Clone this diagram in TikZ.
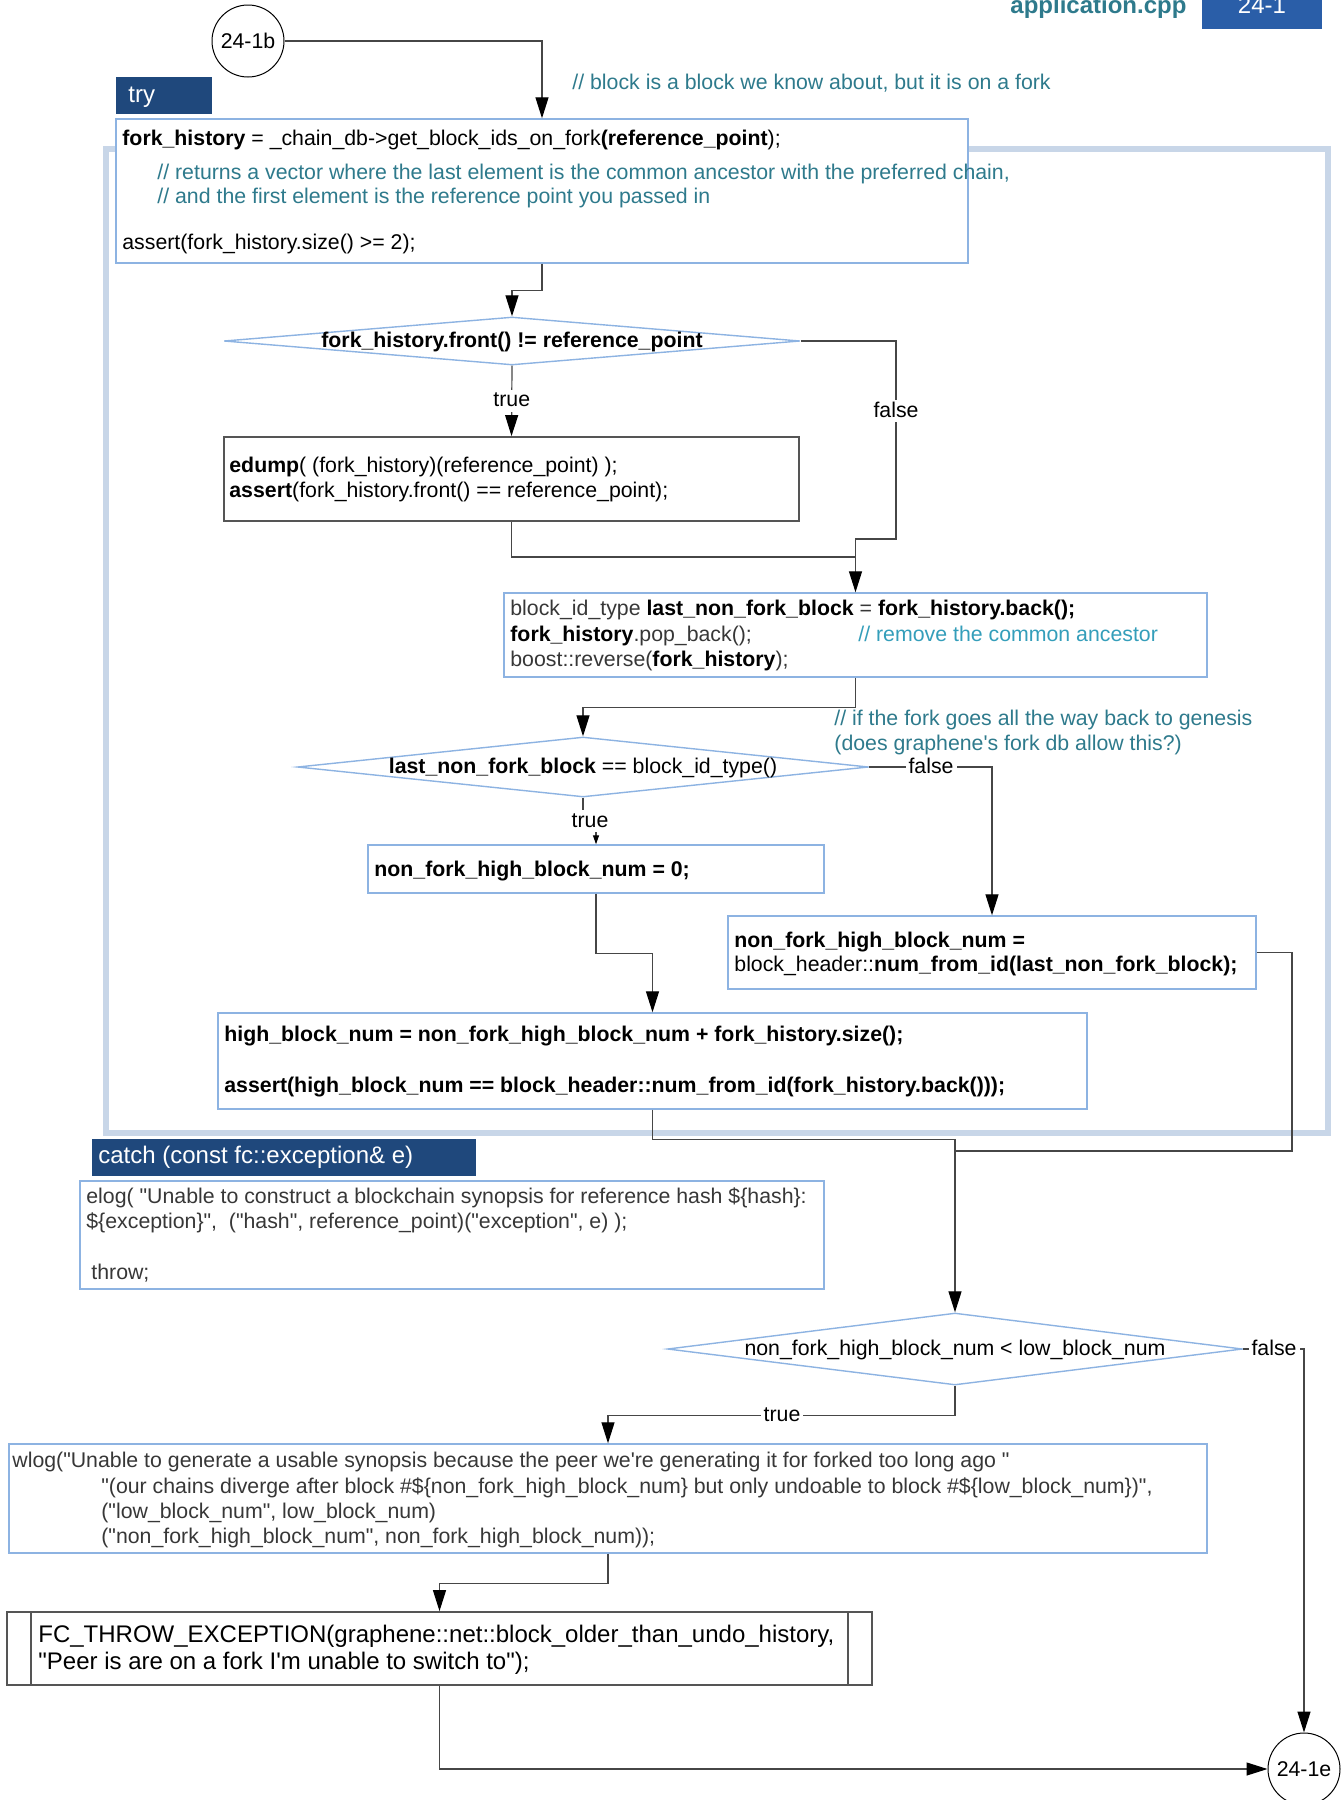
\documentclass[tikz,border=0pt]{standalone}
\usepackage{fontspec}
\newfontfamily\code{Liberation Sans}
\usetikzlibrary{arrows.meta,shapes.geometric,fit}

\definecolor{linkblue}{RGB}{141,179,226}
\definecolor{tryframe}{RGB}{200,214,232}
\definecolor{tagblue}{RGB}{31,72,124}
\definecolor{pageblue}{RGB}{42,94,168}
\definecolor{cmt}{RGB}{46,122,140}
\definecolor{cmtlight}{RGB}{52,158,186}
\definecolor{wire}{RGB}{70,70,70}
\definecolor{codegray}{RGB}{55,55,55}
\definecolor{darkframe}{RGB}{85,85,85}

\begin{document}
\begin{tikzpicture}[x=0.5pt,y=-0.5pt,
  font=\code\fontsize{10.65}{12.5}\selectfont,
  lbox/.style={rectangle, draw=linkblue, line width=0.7pt, fill=white, inner sep=0pt},
  dbox/.style={rectangle, draw=darkframe, line width=0.9pt, fill=white, inner sep=0pt},
  decision/.style={diamond, draw=linkblue, line width=0.7pt, fill=white, inner sep=0pt},
  tagbox/.style={rectangle, fill=tagblue, inner sep=0pt},
  codeline/.style={anchor=west, inner sep=0pt, text height=0.62em, text depth=0pt},
  mid/.style={inner sep=0pt, text height=0.62em, text depth=0pt},
  big/.style={font=\code\fontsize{12}{14}\selectfont},
  conn/.style={draw=wire, line width=0.6pt, -{Triangle[length=10.5pt,width=6.5pt,color=black]}},
  smallconn/.style={draw=wire, line width=0.6pt, -{Triangle[length=4.5pt,width=3pt,color=black]}},
  plain/.style={draw=wire, line width=0.6pt},
  branch/.style={fill=white, inner xsep=1.5pt, inner ysep=1pt, text height=0.75em, text depth=0.15em},
  offpage/.style={circle, draw=black, line width=0.5pt, fill=white, minimum size=36pt, inner sep=0pt},
]
\useasboundingbox (0,0) rectangle (1342,1800);

% page header
\node[rectangle, fill=pageblue, inner sep=0pt, fit={(1202,-10) (1322,29)}] (pg) {};
\node[anchor=base, inner sep=0pt, text=white, big] (pgt) at (1262,13) {24-1};
\node[anchor=base west, inner sep=0pt, text=cmt, font=\code\bfseries\fontsize{12}{14}\selectfont] (file) at (1010,13) {application.cpp};

% try region
\node[rectangle, draw=tryframe, line width=3pt, inner sep=0pt, fit={(106,149) (1328,1133)}] (tryarea) {};
\node[tagbox, fit={(116,77) (212,114)}] (trytag) {};
\node[codeline, text=white, big] (trytxt) at (128,96) {try};

% entry connector
\node[offpage] (c1) at (248,41) {24-1b};
\node[codeline, text=cmt] (cm1) at (572,83) {// block is a block we know about, but it is on a fork};

% fork history query
\node[lbox, fit={(116,119) (968,263)}] (b1) {};
\node[codeline] (b1a) at (122,139) {\textbf{fork\_history} = \_chain\_db->get\_block\_ids\_on\_fork\textbf{(reference\_point});};
\node[codeline, text=cmt] (b1b) at (157,173) {// returns a vector where the last element is the common ancestor with the preferred chain,};
\node[codeline, text=cmt] (b1c) at (157,197) {// and the first element is the reference point you passed in};
\node[codeline] (b1d) at (122,243) {assert(fork\_history.size() >= 2);};

% first decision
\node[decision, minimum width=288pt, minimum height=24pt] (d1) at (512,341) {};
\node[mid] (d1t) at (d1.center) {\textbf{fork\_history.front() != reference\_point}};

\node[dbox, fit={(224,437) (799,521)}] (e1) {};
\node[codeline] (e1a) at (229,466) {\textbf{edump}( (fork\_history)(reference\_point) );};
\node[codeline] (e1b) at (229,491) {\textbf{assert}(fork\_history.front() == reference\_point);};

% last common block
\node[lbox, fit={(504,593) (1207,677)}] (b2) {};
\node[codeline, text=codegray] (b2a) at (510,609) {block\_id\_type \textcolor{black}{\textbf{last\_non\_fork\_block}} = \textcolor{black}{\textbf{fork\_history.back();}}};
\node[codeline, text=codegray] (b2b) at (510,635) {\textcolor{black}{\textbf{fork\_history}}.pop\_back();};
\node[codeline, text=cmtlight] (b2c) at (858,635) {// remove the common ancestor};
\node[codeline, text=codegray] (b2d) at (510,660) {boost::reverse(\textcolor{black}{\textbf{fork\_history}});};

\node[codeline, text=cmt] (cm2) at (834,719) {// if the fork goes all the way back to genesis};
\node[codeline, text=cmt] (cm3) at (834,744) {(does graphene's fork db allow this?)};

% second decision
\node[decision, minimum width=285.5pt, minimum height=30pt] (d2) at (583,767) {};
\node[mid] (d2t) at (d2.center) {\textbf{last\_non\_fork\_block} == block\_id\_type()};

\node[lbox, fit={(368,845) (824,893)}] (b3) {};
\node[codeline] (b3a) at (374,870) {\textbf{non\_fork\_high\_block\_num = 0;}};

\node[lbox, fit={(728,916) (1256,989)}] (b4) {};
\node[codeline] (b4a) at (734,941) {\textbf{non\_fork\_high\_block\_num =}};
\node[codeline] (b4b) at (734,965) {block\_header::\textbf{num\_from\_id(last\_non\_fork\_block);}};

\node[lbox, fit={(218,1013) (1087,1109)}] (b5) {};
\node[codeline] (b5a) at (224,1035) {\textbf{high\_block\_num = non\_fork\_high\_block\_num + fork\_history.size();}};
\node[codeline] (b5b) at (224,1086) {\textbf{assert(high\_block\_num == block\_header::num\_from\_id(fork\_history.back()));}};

% catch handler
\node[tagbox, fit={(92,1139) (476,1176)}] (catchtag) {};
\node[codeline, text=white, big] (catchtxt) at (98,1157) {catch (const fc::exception\& e)};
\node[lbox, fit={(80,1181) (824,1289)}] (b8) {};
\node[codeline, text=codegray] (b8a) at (86,1197) {elog( "Unable to construct a blockchain synopsis for reference hash \$\{hash\}:};
\node[codeline, text=codegray] (b8b) at (86,1222) {\$\{exception\}",\ \ ("hash", reference\_point)("exception", e) );};
\node[codeline, text=codegray] (b8c) at (91,1273) {throw;};

% third decision
\node[decision, minimum width=287.5pt, minimum height=36pt] (d3) at (955,1349) {};
\node[mid] (d3t) at (d3.center) {non\_fork\_high\_block\_num < low\_block\_num};

\node[lbox, fit={(9,1444) (1207,1553)}] (b6) {};
\node[codeline, text=codegray] (b6a) at (12,1461) {wlog("Unable to generate a usable synopsis because the peer we're generating it for forked too long ago "};
\node[codeline, text=codegray] (b6b) at (101,1487) {"(our chains diverge after block \#\$\{non\_fork\_high\_block\_num\} but only undoable to block \#\$\{low\_block\_num\})",};
\node[codeline, text=codegray] (b6c) at (101,1512) {("low\_block\_num", low\_block\_num)};
\node[codeline, text=codegray] (b6d) at (101,1537) {("non\_fork\_high\_block\_num", non\_fork\_high\_block\_num));};

% predefined process: throw
\node[dbox, fit={(7,1612) (872,1685)}] (b7) {};
\draw[darkframe, line width=0.9pt] ([xshift=12.35pt]b7.north west) -- ([xshift=12.35pt]b7.south west);
\draw[darkframe, line width=0.9pt] ([xshift=-12.5pt]b7.north east) -- ([xshift=-12.5pt]b7.south east);
\node[codeline, big] (b7a) at (38,1636) {FC\_THROW\_EXCEPTION(graphene::net::block\_older\_than\_undo\_history,};
\node[codeline, big] (b7b) at (38,1663) {"Peer is are on a fork I'm unable to switch to");};

\node[offpage] (c2) at (1304,1769) {24-1e};

% connectors
\coordinate (j1) at (896,539);
\coordinate (j2) at (856,557);
\coordinate (j4) at (1292,1151);
\coordinate (j5) at (955,1151);

\draw[conn] (c1.east) -| (b1.north);
\draw[conn] (b1.south) -- ++(0,27) -| (d1.north);
\draw[conn] (d1.south) -- (e1.north) node[branch, pos=0.5] (t1) {true};
\draw[conn] (d1.east) -| (j1) -| (b2.north);
\node[branch] (f1) at (896,411) {false};
\draw[plain] (e1.south) |- (j2);
\draw[conn] (b2.south) -- ++(0,30) -| (d2.north);
\draw[conn] (d2.east) -| (b4.north);
\node[branch] (f2) at (931,767) {false};
\draw[smallconn] (d2.south) -- ++(0,24) -| (b3.north);
\node[branch] (t2) at (590,821) {true};
\draw[conn] (b3.south) -- ++(0,60) -| (b5.north);
\draw[plain] (b4.east) -| (j4) -- (j5);
\draw[conn] (b5.south) -- ++(0,30) -| (d3.north);
\draw[conn] (d3.east) -| (c2.north);
\node[branch] (f3) at (1274,1349) {false};
\draw[conn] (d3.south) -- ++(0,30) -| (b6.north);
\node[branch] (t3) at (782,1415) {true};
\draw[conn] (b6.south) -- ++(0,30) -| (b7.north);
\draw[conn] (b7.south) |- (c2.west);
\end{tikzpicture}
\end{document}
